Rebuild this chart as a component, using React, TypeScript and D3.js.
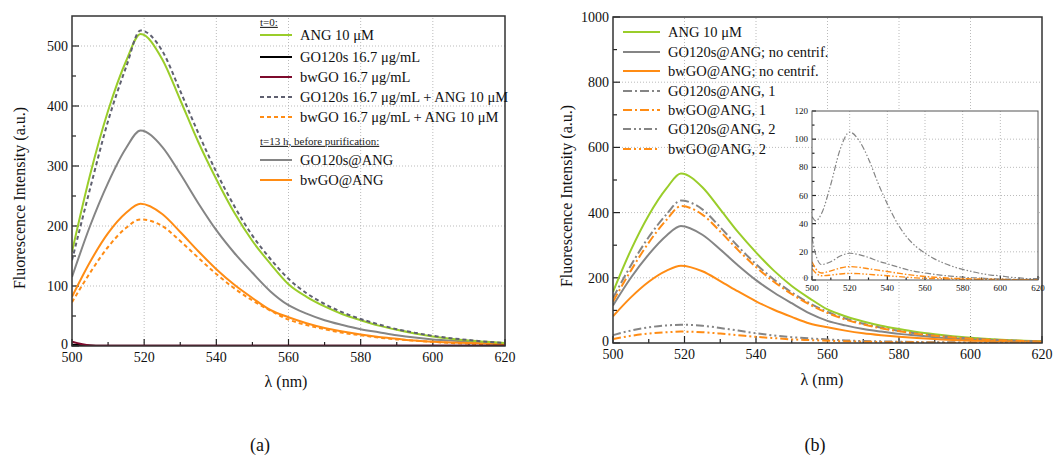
import React from 'react'
import * as d3 from 'd3'

// wavelength grid (nm)
const nm = [500,505,510,515,519,525,530,535,540,545,550,555,560,565,570,575,580,585,590,595,600,605,610,615,620]

// panel (a) / (b) shared spectra
const ang10 = [157,285,392,475,520,478,410,340,278,222,175,137,103,82,66,53,43,34,27,21,16,12,9,7,5]
const go120sAng0 = [143,262,375,465,526,492,425,355,290,233,184,145,112,88,70,56,45,36,28,22,17,13,10,7,5]
const bwgoAng0 = [73,122,165,197,211,200,175,147,120,96,76,59,44,35,28,22,18,14,11,9,7,5,4,3,3]
const go120s = [2,1,0.5,0.5,0.5,0.5,0.5,0.5,0.5,0.5,0.5,0.5,0.5,0.5,0.5,0.5,0.5,0.5,0.5,0.5,0.5,0.5,0.5,0.5,0.5]
const bwgo = [7,1,0.5,0.3,0.3,0.3,0.3,0.3,0.3,0.3,0.3,0.3,0.3,0.3,0.3,0.3,0.3,0.3,0.3,0.3,0.3,0.3,0.3,0.3,0.3]
const go120sAt = [115,200,272,330,359,332,287,238,193,155,122,91,68,54,43,35,28,23,18,14,11,9,7,5,4]
const bwgoAt = [82,140,188,222,237,220,190,158,128,102,80,60,48,38,30,24,19,15,12,9,7,6,5,4,3]

// panel (b) after centrifugation
const go120sAt1 = [138,238,325,395,437,410,355,296,242,195,155,122,95,75,59,47,37,29,23,18,14,11,8,6,5]
const bwgoAt1 = [127,222,308,378,420,394,342,285,233,188,150,118,92,72,57,45,36,28,22,17,13,10,8,6,4]
const go120sAt2 = [24,38,48,54,56,53,46,38,30,23,18,14,11,8,6,5,4,3,2,2,1,1,1,1,1]
const bwgoAt2 = [12,22,29,33,35,33,29,24,19,15,11,9,7,5,4,3,2,2,1,1,1,1,1,1,1]

// inset grid and spectra
const nmIn = [500,502,505,510,515,520,525,530,535,540,545,550,555,560,565,570,575,580,585,590,595,600,605,610,615,620]
const insGrayA = [45,42,47,68,93,105,99,86,69,54,41,31,24,19,15,12,9.5,7.5,6,4.5,3.5,3,2,1.5,1,1]
const insGrayB = [30,18,11,13,17,19,18,16,13.5,11.5,9.5,7.5,6,5,4,3.2,2.6,2,1.6,1.3,1,0.8,0.6,0.5,0.4,0.3]
const insOrgC = [13,8,5,6.5,8.5,9.5,9,8,7,6,5,4,3.2,2.5,2,1.6,1.2,1,0.8,0.6,0.5,0.4,0.3,0.3,0.2,0.2]
const insOrgD = [8,5,3,3.5,4.3,4.7,4.5,4,3.5,3,2.5,2,1.5,1.2,1,0.8,0.6,0.5,0.4,0.3,0.3,0.2,0.2,0.2,0.1,0.1]

const FONT = '"Liberation Serif", "Times New Roman", serif'
const GREEN = '#9acd2a', GRAY = '#858585', DGRAY = '#5f6070', ORANGE = '#ff8c14', DRED = '#7d0a2c'
const DASH = '4,3', DASHDOT = '9,3,2,3', DASHDOTDOT = '8,3,2,3,2,3'

function Frame({x, y, xMajor, xMinor, yMajor, yMinor, xGrid, yGrid, fs, tl, ml}: any){
  const [x0, x1] = x.range(), [y0, y1] = y.range()
  return <g>
    {xGrid.map((v: number) => <line key={'gx'+v} x1={x(v)} x2={x(v)} y1={y0} y2={y1} stroke="#bbb" strokeWidth={1} strokeDasharray="1,2" />)}
    {yGrid.map((v: number) => <line key={'gy'+v} x1={x0} x2={x1} y1={y(v)} y2={y(v)} stroke="#bbb" strokeWidth={1} strokeDasharray="1,2" />)}
    {xMinor.map((v: number) => <line key={'mx'+v} x1={x(v)} x2={x(v)} y1={y0} y2={y0-ml} stroke="#222" strokeWidth={1.2} />)}
    {xMajor.map((v: number) => <line key={'Mx'+v} x1={x(v)} x2={x(v)} y1={y0} y2={y0-tl} stroke="#222" strokeWidth={1.2} />)}
    {yMinor.map((v: number) => <line key={'my'+v} x1={x0} x2={x0+ml} y1={y(v)} y2={y(v)} stroke="#222" strokeWidth={1.2} />)}
    {yMajor.map((v: number) => <line key={'My'+v} x1={x0} x2={x0+tl} y1={y(v)} y2={y(v)} stroke="#222" strokeWidth={1.2} />)}
    {xMajor.map((v: number) => <text key={'tx'+v} x={x(v)} y={y0+fs+2} fontSize={fs} textAnchor="middle" fill="#111">{v}</text>)}
    {yMajor.map((v: number) => <text key={'ty'+v} x={x0-4} y={y(v) - (v === 0 ? 2 : 0)} dy="0.35em" fontSize={fs} textAnchor="end" fill="#111">{v}</text>)}
  </g>
}

function Curves({x, y, xs, list, clip}: any){
  return <g clipPath={`url(#${clip})`}>
    {list.map((s: any, i: number) => {
      const line = d3.line<number>().x((_, j) => x(xs[j])).y(d => y(d)).curve(d3.curveMonotoneX)
      return <path key={i} d={line(s.values) || ''} fill="none" stroke={s.color} strokeWidth={s.w || 2} strokeDasharray={s.dash} />
    })}
  </g>
}

function Legend({x, items, lineLen, fs}: any){
  return <g>
    {items.map((it: any, i: number) => it.header ?
      <text key={i} x={x} y={it.y} dy="0.35em" fontSize={11} textDecoration="underline" fill="#222">{it.header}</text> :
      <g key={i}>
        <line x1={x} x2={x+lineLen} y1={it.y} y2={it.y} stroke={it.color} strokeWidth={2} strokeDasharray={it.dash} />
        <text x={x+lineLen+8} y={it.y} dy="0.35em" fontSize={fs} fill="#111">{it.label}</text>
      </g>)}
  </g>
}

export default function App(){
  // panel (a)
  const xa = d3.scaleLinear().domain([500, 620]).range([72, 505])
  const ya = d3.scaleLinear().domain([0, 550]).range([346, 16])
  // panel (b)
  const xb = d3.scaleLinear().domain([500, 620]).range([613, 1042])
  const yb = d3.scaleLinear().domain([0, 1000]).range([343, 17])
  // inset
  const xi = d3.scaleLinear().domain([500, 620]).range([812, 1038])
  const yi = d3.scaleLinear().domain([0, 120]).range([280, 111])

  const xMajor = d3.range(500, 621, 20), xMinor = d3.range(510, 620, 20)
  const xGrid = d3.range(520, 620, 20)

  const seriesA = [
    {values: go120sAt, color: GRAY},
    {values: bwgoAt, color: ORANGE},
    {values: bwgoAng0, color: ORANGE, dash: DASH},
    {values: ang10, color: GREEN},
    {values: go120sAng0, color: DGRAY, dash: DASH},
    {values: go120s, color: '#000'},
    {values: bwgo, color: DRED},
  ]
  const seriesB = [
    {values: ang10, color: GREEN},
    {values: go120sAt, color: GRAY},
    {values: bwgoAt, color: ORANGE},
    {values: go120sAt1, color: GRAY, dash: DASHDOT},
    {values: bwgoAt1, color: ORANGE, dash: DASHDOT},
    {values: go120sAt2, color: GRAY, dash: DASHDOTDOT},
    {values: bwgoAt2, color: ORANGE, dash: DASHDOTDOT},
  ]
  const seriesIn = [
    {values: insGrayA, color: GRAY, dash: '6,2,1.5,2,1.5,2', w: 1.2},
    {values: insGrayB, color: GRAY, dash: '6,2,1.5,2', w: 1.2},
    {values: insOrgC, color: ORANGE, dash: '6,2,1.5,2', w: 1.4},
    {values: insOrgD, color: ORANGE, dash: '6,2,1.5,2,1.5,2', w: 1.4},
  ]

  const legA = [
    {header: 't=0:', y: 22},
    {label: 'ANG 10 μM', color: GREEN, y: 35},
    {label: 'GO120s 16.7 μg/mL', color: '#000', y: 57},
    {label: 'bwGO 16.7 μg/mL', color: DRED, y: 77},
    {label: 'GO120s 16.7 μg/mL + ANG 10 μM', color: DGRAY, dash: DASH, y: 97},
    {label: 'bwGO 16.7 μg/mL + ANG 10 μM', color: ORANGE, dash: DASH, y: 117},
    {header: 't=13 h, before purification:', y: 141},
    {label: 'GO120s@ANG', color: GRAY, y: 160},
    {label: 'bwGO@ANG', color: ORANGE, y: 180},
  ]
  const legB = [
    {label: 'ANG 10 μM', color: GREEN, y: 32},
    {label: 'GO120s@ANG; no centrif.', color: GRAY, y: 52},
    {label: 'bwGO@ANG; no centrif.', color: ORANGE, y: 71},
    {label: 'GO120s@ANG, 1', color: GRAY, dash: DASHDOT, y: 91},
    {label: 'bwGO@ANG, 1', color: ORANGE, dash: DASHDOT, y: 110},
    {label: 'GO120s@ANG, 2', color: GRAY, dash: DASHDOTDOT, y: 129},
    {label: 'bwGO@ANG, 2', color: ORANGE, dash: DASHDOTDOT, y: 149},
  ]

  return (
    <svg width={1059} height={455} fontFamily={FONT} style={{position: 'absolute', left: 0, top: 0, background: '#fff'}}>
      <defs>
        <clipPath id="ca"><rect x={72} y={16} width={433} height={330} /></clipPath>
        <clipPath id="cb"><rect x={613} y={17} width={429} height={326} /></clipPath>
        <clipPath id="ci"><rect x={812} y={111} width={226} height={169} /></clipPath>
      </defs>

      {/* panel (a) */}
      <Frame x={xa} y={ya} xMajor={xMajor} xMinor={xMinor} yMajor={d3.range(0, 501, 100)} yMinor={d3.range(50, 550, 100)}
        xGrid={xGrid} yGrid={d3.range(100, 501, 100)} fs={14} tl={7} ml={4} />
      <Curves x={xa} y={ya} xs={nm} list={seriesA} clip="ca" />
      <rect x={72} y={16} width={433} height={330} fill="none" stroke="#333" strokeWidth={1.5} />
      <Legend x={260} items={legA} lineLen={32} fs={14.5} />
      <text x={286} y={387} fontSize={16} textAnchor="middle" fill="#111">λ (nm)</text>
      <text transform="translate(25,198) rotate(-90)" fontSize={16} textAnchor="middle" fill="#111">Fluorescence Intensity (a.u.)</text>
      <text x={260} y={451} fontSize={18} textAnchor="middle" fill="#111">(a)</text>

      {/* panel (b) */}
      <Frame x={xb} y={yb} xMajor={xMajor} xMinor={xMinor} yMajor={d3.range(0, 1001, 200)} yMinor={d3.range(100, 1000, 200)}
        xGrid={xGrid} yGrid={d3.range(200, 801, 200)} fs={14} tl={7} ml={4} />
      <Curves x={xb} y={yb} xs={nm} list={seriesB} clip="cb" />
      <rect x={613} y={17} width={429} height={326} fill="none" stroke="#333" strokeWidth={1.5} />
      <Legend x={623} items={legB} lineLen={37} fs={14.5} />
      <text x={822} y={385} fontSize={16} textAnchor="middle" fill="#111">λ (nm)</text>
      <text transform="translate(572,196) rotate(-90)" fontSize={16} textAnchor="middle" fill="#111">Fluorescence Intensity (a.u.)</text>
      <text x={815} y={451} fontSize={18} textAnchor="middle" fill="#111">(b)</text>

      {/* inset */}
      <rect x={812} y={111} width={226} height={169} fill="#fff" />
      <Frame x={xi} y={yi} xMajor={xMajor} xMinor={xMinor} yMajor={d3.range(0, 121, 20)} yMinor={d3.range(10, 120, 20)}
        xGrid={xGrid} yGrid={d3.range(20, 101, 20)} fs={9} tl={4} ml={2.5} />
      <Curves x={xi} y={yi} xs={nmIn} list={seriesIn} clip="ci" />
      <rect x={812} y={111} width={226} height={169} fill="none" stroke="#555" strokeWidth={1} />
    </svg>
  )
}
